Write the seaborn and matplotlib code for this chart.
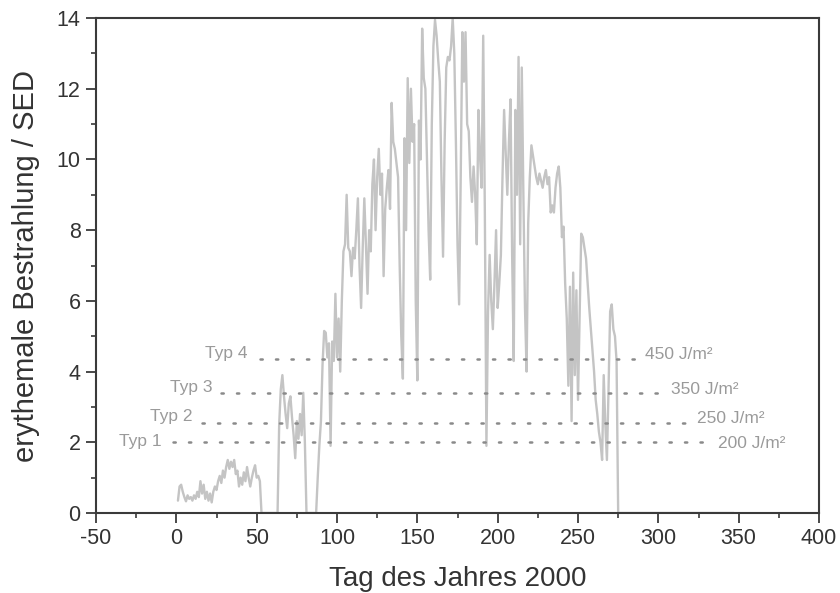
import numpy as np
import pandas as pd
import matplotlib
matplotlib.use("Agg")
import matplotlib.pyplot as plt
import seaborn as sns
from matplotlib.ticker import MultipleLocator

# ---------------- data ----------------
# daily erythemal exposure (SED), day 1 .. 275
uv_values = [
    0.35, 0.75, 0.80, 0.60, 0.45, 0.33, 0.50, 0.40, 0.45, 0.35,   # 1-10
    0.50, 0.40, 0.60, 0.45, 0.90, 0.55, 0.80, 0.40, 0.60, 0.35,   # 11-20
    0.55, 0.30, 0.60, 0.75, 0.65, 0.90, 1.05, 0.85, 1.20, 1.00,   # 21-30
    1.30, 1.50, 1.25, 1.45, 1.30, 1.50, 1.10, 1.20, 0.75, 1.00,   # 31-40
    0.80, 1.15, 0.90, 1.30, 1.00, 0.75, 1.00, 1.20, 1.35, 1.00,   # 41-50
    1.05, 0.90, 0.00, 0.00, 0.00, 0.00, 0.00, 0.00, 0.00, 0.00,   # 51-60
    0.00, 0.00, 0.00, 2.50, 3.50, 3.90, 3.30, 2.80, 2.40, 3.10,   # 61-70
    3.30, 2.70, 2.20, 1.55, 2.60, 2.10, 2.80, 2.20, 3.40, 2.00,   # 71-80
    0.00, 0.00, 0.00, 0.00, 0.00, 0.00, 0.00, 1.00, 1.90, 2.60,   # 81-90
    4.20, 5.15, 5.10, 4.40, 4.80, 1.90, 4.85, 4.30, 6.20, 4.40,   # 91-100
    5.50, 4.00, 6.00, 7.40, 7.60, 9.00, 7.50, 7.40, 6.70, 7.50,   # 101-110
    7.20, 8.00, 8.90, 7.00, 5.80, 7.50, 8.90, 7.60, 6.20, 8.00,   # 111-120
    7.40, 9.30, 10.00, 8.00, 9.50, 10.30, 9.00, 9.60, 6.70, 8.60, # 121-130
    9.20, 9.70, 8.60, 11.60, 10.50, 10.30, 9.90, 9.50, 7.00, 5.00, # 131-140
    3.80, 10.60, 8.00, 12.30, 9.90, 12.00, 10.50, 11.00, 6.00, 3.75, # 141-150
    11.10, 10.00, 13.70, 12.30, 12.00, 10.00, 8.00, 6.60, 11.00, 13.20, # 151-160
    13.95, 13.50, 12.80, 12.20, 9.50, 7.25, 10.50, 12.60, 12.90, 12.80, # 161-170
    13.20, 14.00, 13.00, 10.50, 7.60, 5.90, 9.50, 13.60, 12.20, 13.60,  # 171-180
    11.00, 10.80, 9.50, 8.80, 9.80, 9.00, 7.60, 11.40, 10.10, 9.20,   # 181-190
    13.50, 8.60, 1.90, 5.70, 7.30, 6.00, 5.20, 6.50, 8.00, 5.80,      # 191-200
    6.50, 7.30, 9.50, 11.40, 10.20, 9.00, 10.50, 11.70, 7.30, 4.30,   # 201-210
    11.40, 9.00, 12.90, 7.60, 12.60, 9.00, 5.80, 4.00, 8.20, 9.50,    # 211-220
    10.40, 10.10, 9.80, 9.50, 9.30, 9.60, 9.40, 9.20, 9.50, 9.70,     # 221-230
    9.30, 9.50, 8.50, 8.70, 8.50, 9.20, 9.60, 9.80, 9.20, 7.80,       # 231-240
    8.10, 6.50, 5.50, 3.60, 6.40, 2.60, 6.80, 3.90, 6.30, 3.20,       # 241-250
    5.50, 7.90, 7.80, 7.50, 7.20, 6.50, 5.80, 5.20, 4.60, 4.00,       # 251-260
    3.20, 2.80, 2.30, 2.00, 1.50, 3.90, 2.50, 1.50, 3.50, 5.70,       # 261-270
    5.90, 5.20, 5.00, 4.30, 0.00,                                     # 271-275
]
uv_days = list(range(1, 276))
# flat zero stretch after day 275
tail_days = [347]
tail_values = [0.0]

thr_levels = [4.35, 3.40, 2.55, 2.00]
thr_names = ["Typ 4", "Typ 3", "Typ 2", "Typ 1"]
thr_units = ["450 J/m²", "350 J/m²", "250 J/m²", "200 J/m²"]
thr_start = [52, 28, 16, -2]
thr_end = [288, 302, 319, 330]

x_ticks = [-50, 0, 50, 100, 150, 200, 250, 300, 350, 400]
y_ticks = [0, 2, 4, 6, 8, 10, 12, 14]

# ---------------- layout ----------------
left_label_x = [44.5, 22.5, 10.0, -9.0]
left_label_y = [4.50, 3.55, 2.72, 2.02]
right_label_x = [292.0, 308.0, 324.0, 337.0]
right_label_y = [4.47, 3.50, 2.66, 1.98]

df = pd.DataFrame({"Tag": uv_days + tail_days, "SED": uv_values + tail_values})

sns.set_theme(style="ticks")
plt.rcParams["font.family"] = ["Liberation Sans", "DejaVu Sans"]
plt.rcParams["axes.unicode_minus"] = False

fig = plt.figure(figsize=(8.4, 5.93), dpi=100)
ax = fig.add_axes([0.1143, 0.1349, 0.8607, 0.8347])

sns.lineplot(data=df, x="Tag", y="SED", ax=ax, color="#c4c4c4",
             linewidth=1.7, estimator=None, sort=False, zorder=2)

dot_color = "#8a8a8a"
for lvl, x0, x1 in zip(thr_levels, thr_start, thr_end):
    ax.hlines(lvl, x0, x1, colors=dot_color, linestyles=(0, (0.9, 5.3)),
              linewidth=1.8, zorder=3, capstyle="round")

lab_color = "#9a9a9a"
for name, x, y in zip(thr_names, left_label_x, left_label_y):
    ax.text(x, y, name, ha="right", va="center", fontsize=12.5,
            color=lab_color)
for unit, x, y in zip(thr_units, right_label_x, right_label_y):
    ax.text(x, y, unit, ha="left", va="center", fontsize=12.5,
            color=lab_color)

ax.set_xlim(-50, 400)
ax.set_ylim(0, 14)
ax.set_xticks(x_ticks)
ax.set_yticks(y_ticks)
ax.xaxis.set_minor_locator(MultipleLocator(25))
ax.yaxis.set_minor_locator(MultipleLocator(1))

spine_color = "#3a3a3a"
for s in ax.spines.values():
    s.set_visible(True)
    s.set_color(spine_color)
    s.set_linewidth(1.5)

ax.tick_params(axis="both", which="major", direction="out", length=7,
               width=1.3, color=spine_color, labelsize=15.5,
               labelcolor="#333333", pad=4)
ax.tick_params(axis="both", which="minor", direction="out", length=3.5,
               width=1.2, color=spine_color)
ax.tick_params(top=False, right=False, which="both")

ax.set_xlabel("Tag des Jahres 2000", fontsize=20, color="#333333", labelpad=12)
ax.set_ylabel("erythemale Bestrahlung / SED", fontsize=21, color="#333333",
              labelpad=12)
ax.grid(False)
ax.set_facecolor("white")
fig.patch.set_facecolor("white")

fig.savefig("out.png", dpi=100)
